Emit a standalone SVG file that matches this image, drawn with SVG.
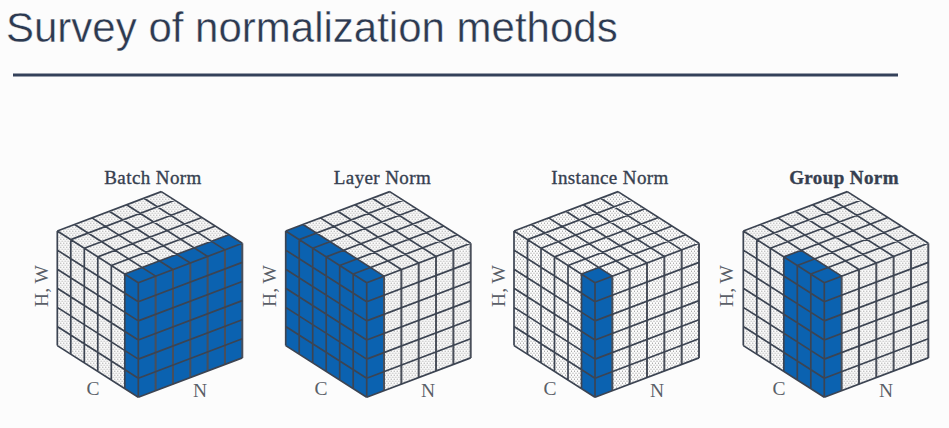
<svg xmlns="http://www.w3.org/2000/svg" width="949" height="428" viewBox="0 0 949 428">
<style>
.title{font-family:"Liberation Sans",Arial,sans-serif;font-size:42px;fill:#2c3950;stroke:#fcfcfc;stroke-width:.4px}
.lab{font-family:"Liberation Serif","Times New Roman",serif;font-size:19.5px;text-anchor:middle}
.head{font-family:"Liberation Serif","Times New Roman",serif;font-size:19px;fill:#363f50;text-anchor:middle;stroke:#363f50;stroke-width:.35px;letter-spacing:.4px}
.ax{fill:#5a5f68}
.blue{fill:#0b62b0}
.grid{fill:none;stroke:#3c4452;stroke-width:1.7;stroke-linejoin:round}
.nv{fill:none;stroke:#4a4f5a;stroke-width:2}
</style>
<defs>
<pattern id="dots" width="3" height="4" patternUnits="userSpaceOnUse">
<rect width="3" height="4" fill="#fcfcfc"/>
<rect width="1" height="1" fill="#8c8c8c"/>
<rect x="1.500" y="2" width="1" height="1" fill="#8c8c8c"/>
</pattern>
<path id="faces" fill="url(#dots)" d="M-81 -51.7L0 0L104 -39.4L23 -91.1ZM-81 -51.7L0 0V114.6L-81 62.9ZM0 0L104 -39.4V75.2L0 114.6Z"/>
<g id="grid">
<path class="nv" d="M17.33 -6.57v114.6M34.67 -13.13v114.6M52 -19.7v114.6M69.33 -26.27v114.6M86.67 -32.83v114.6M104 -39.4v114.6"/>
<path class="grid" d="M-81 -51.7v114.6M-67.5 -43.08v114.6M-54 -34.47v114.6M-40.5 -25.85v114.6M-27 -17.23v114.6M-13.5 -8.62v114.6M0 0v114.6M-81 -51.7l81 51.7M-81 -32.6l81 51.7M-81 -13.5l81 51.7M-81 5.6l81 51.7M-81 24.7l81 51.7M-81 43.8l81 51.7M-81 62.9l81 51.7M0 0l104 -39.4M0 19.1l104 -39.4M0 38.2l104 -39.4M0 57.3l104 -39.4M0 76.4l104 -39.4M0 95.5l104 -39.4M0 114.6l104 -39.4M-81 -51.7l104 -39.4M-67.5 -43.08l104 -39.4M-54 -34.47l104 -39.4M-40.5 -25.85l104 -39.4M-27 -17.23l104 -39.4M-13.5 -8.62l104 -39.4M17.33 -6.57l-81 -51.7M34.67 -13.13l-81 -51.7M52 -19.7l-81 -51.7M69.33 -26.27l-81 -51.7M86.67 -32.83l-81 -51.7M104 -39.4l-81 -51.7"/>
</g>
</defs>
<rect width="949" height="428" fill="#fcfcfc"/>
<g id="title">
<text class="title" x="6" y="42">Survey of normalization methods</text>
<rect x="13" y="73.5" width="885" height="3" fill="#34415a"/>
</g>
<g id="batch-norm">
<text class="head" x="153" y="184">Batch Norm</text>
<text class="lab ax" transform="translate(48 286) rotate(-90)">H, W</text>
<text class="lab ax" x="93" y="395">C</text>
<text class="lab ax" x="200" y="397">N</text>
<g transform="translate(138.3 282.7)">
<use href="#faces"/>
<path class="blue" d="M0 0L104 -39.4V75.2L0 114.6ZM-13.5 -8.62L0 0V114.6L-13.5 105.98ZM0 0L104 -39.4L90.5 -48.02L-13.5 -8.62Z"/>
<use href="#grid"/>
</g>
</g>
<g id="layer-norm">
<text class="head" x="382.500" y="184">Layer Norm</text>
<text class="lab ax" transform="translate(276 286) rotate(-90)">H, W</text>
<text class="lab ax" x="321" y="395">C</text>
<text class="lab ax" x="428" y="397">N</text>
<g transform="translate(366.700 282.7)">
<use href="#faces"/>
<path class="blue" d="M-81 -51.7L0 0V114.6L-81 62.9ZM0 0L17.33 -6.57V108.03L0 114.6ZM-81 -51.7L0 0L17.33 -6.57L-63.67 -58.27Z"/>
<use href="#grid"/>
</g>
</g>
<g id="instance-norm">
<text class="head" x="610" y="184">Instance Norm</text>
<text class="lab ax" transform="translate(505 286) rotate(-90)">H, W</text>
<text class="lab ax" x="550" y="395">C</text>
<text class="lab ax" x="657" y="397">N</text>
<g transform="translate(595 282.7)">
<use href="#faces"/>
<path class="blue" d="M-13.5 -8.62L0 0V114.6L-13.5 105.98ZM0 0L17.33 -6.57V108.03L0 114.6ZM0 0L17.33 -6.57L3.83 -15.19L-13.5 -8.62Z"/>
<use href="#grid"/>
</g>
</g>
<g id="group-norm">
<text class="head" x="844" y="184" font-weight="bold">Group Norm</text>
<text class="lab ax" transform="translate(733 286) rotate(-90)">H, W</text>
<text class="lab ax" x="779" y="395">C</text>
<text class="lab ax" x="886" y="397">N</text>
<g transform="translate(824.300 282.7)">
<use href="#faces"/>
<path class="blue" d="M-40.5 -25.85L0 0V114.6L-40.5 88.75ZM0 0L17.33 -6.57V108.03L0 114.6ZM0 0L17.33 -6.57L-23.17 -32.42L-40.5 -25.85Z"/>
<use href="#grid"/>
</g>
</g>
</svg>
